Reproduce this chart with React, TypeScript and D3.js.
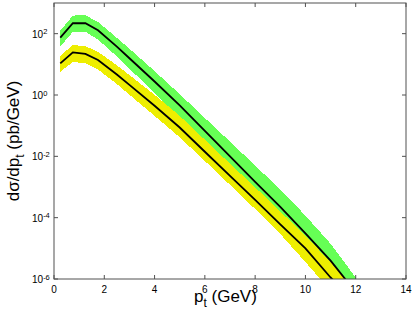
import React from "react";
import * as d3 from "d3";

// transverse momentum grid (GeV)
const ptGrid = [0.25, 0.75, 1.25, 1.75, 2.5, 3, 4, 5, 6, 7, 8, 9, 10, 11, 12];

// upper (green) prediction: central line and band edges (pb/GeV)
const greenCentral = [74.1, 218.8, 218.8, 128.8, 37.6, 15.8, 2.75, 0.457, 0.0676, 0.01, 1.48e-3, 2.24e-4, 3.09e-5, 3.98e-6, 3.7e-7];
const greenUpper = [125.9, 389, 398, 240, 73.3, 32.4, 6.03, 1.07, 0.178, 0.0302, 5.0e-3, 8.3e-4, 1.17e-4, 1.41e-5, 1.12e-6];
const greenLower = [38.0, 114.8, 114.8, 64.6, 18.0, 7.24, 1.17, 0.182, 0.0251, 3.47e-3, 4.68e-4, 6.76e-5, 9.1e-6, 1.17e-6, 1.1e-7];

// lower (yellow) prediction: central line and band edges (pb/GeV)
const yellowCentral = [10.7, 24.5, 21.9, 13.8, 4.68, 2.14, 0.447, 0.0871, 0.0141, 2.29e-3, 3.8e-4, 6.03e-5, 1.0e-5, 1.12e-6, 1.78e-7];
const yellowUpper = [19.1, 42.7, 38.9, 25.7, 9.33, 4.47, 1.02, 0.209, 0.0347, 5.75e-3, 9.8e-4, 1.58e-4, 2.63e-5, 3.47e-6, 4.68e-7];
const yellowLower = [5.75, 12.0, 10.7, 6.76, 2.29, 1.02, 0.209, 0.0417, 7.08e-3, 1.17e-3, 1.91e-4, 2.95e-5, 3.55e-6, 4.2e-7, 6.2e-8];

// axis ticks
const xTicks = [0, 2, 4, 6, 8, 10, 12, 14];
const yTicks = [1e-6, 1e-4, 1e-2, 1e0, 1e2];
const yTickExponents = ["-6", "-4", "-2", "0", "2"];

const W = 415;
const H = 318;
const M = { left: 54, right: 406, top: 3, bottom: 279 };
const FONT = "'Liberation Sans', Arial, Helvetica, sans-serif";
const AXIS = "#505050";

export default function App() {
  const x = d3.scaleLinear().domain([0, 14]).range([M.left, M.right]);
  const y = d3.scaleLog().domain([1e-6, 1e3]).range([M.bottom, M.top]);

  const area = (up: number[], lo: number[]) =>
    d3
      .area<number>()
      .x((_, i) => x(ptGrid[i]))
      .y0((_, i) => y(lo[i]))
      .y1((_, i) => y(up[i]))(ptGrid) || "";

  const line = (vals: number[]) =>
    d3
      .line<number>()
      .x((_, i) => x(ptGrid[i]))
      .y((_, i) => y(vals[i]))(ptGrid) || "";

  const tickLen = 4;

  return (
    <svg
      width={W}
      height={H}
      style={{ position: "absolute", left: 0, top: 0, background: "#fff" }}
      fontFamily={FONT}
    >
      <defs>
        <clipPath id="plotClip">
          <rect x={M.left} y={M.top} width={M.right - M.left} height={M.bottom - M.top} />
        </clipPath>
      </defs>
      <rect x={0} y={0} width={W} height={H} fill="#fff" />
      <g clipPath="url(#plotClip)">
        <path d={area(greenUpper, greenLower)} fill="#66ff55" shapeRendering="crispEdges" />
        <path d={area(yellowUpper, yellowLower)} fill="#eeee00" shapeRendering="crispEdges" />
        <path d={line(greenCentral)} fill="none" stroke="#000" strokeWidth={1.8} />
        <path d={line(yellowCentral)} fill="none" stroke="#000" strokeWidth={1.8} />
      </g>

      {/* box */}
      <rect
        x={M.left}
        y={M.top}
        width={M.right - M.left}
        height={M.bottom - M.top}
        fill="none"
        stroke={AXIS}
        strokeWidth={1}
      />

      {/* x ticks */}
      {xTicks.map((t) => (
        <g key={"x" + t}>
          <line x1={x(t)} x2={x(t)} y1={M.bottom} y2={M.bottom - tickLen} stroke={AXIS} />
          <line x1={x(t)} x2={x(t)} y1={M.top} y2={M.top + tickLen} stroke={AXIS} />
          <text x={x(t)} y={292.5} fontSize={10} textAnchor="middle" fill="#000">
            {t}
          </text>
        </g>
      ))}

      {/* y ticks */}
      {yTicks.map((t, i) => (
        <g key={"y" + i}>
          <line x1={M.left} x2={M.left + tickLen} y1={y(t)} y2={y(t)} stroke={AXIS} />
          <line x1={M.right} x2={M.right - tickLen} y1={y(t)} y2={y(t)} stroke={AXIS} />
          <text x={32} y={y(t) + 4} fontSize={10} fill="#000">
            10
            <tspan dy={-3.5} fontSize={7.5}>
              {yTickExponents[i]}
            </tspan>
          </text>
        </g>
      ))}

      {/* x label */}
      <text x={194} y={302} fontSize={17} fill="#000">
        p
        <tspan dy={5} fontSize={12}>
          t
        </tspan>
        <tspan dy={-5}> (GeV)</tspan>
      </text>

      {/* y label */}
      <text
        transform={`translate(19, ${(M.top + M.bottom) / 2}) rotate(-90)`}
        textAnchor="middle"
        fontSize={17}
        fill="#000"
      >
        dσ/dp
        <tspan dy={5} fontSize={12}>
          t
        </tspan>
        <tspan dy={-5}> (pb/GeV)</tspan>
      </text>
    </svg>
  );
}
